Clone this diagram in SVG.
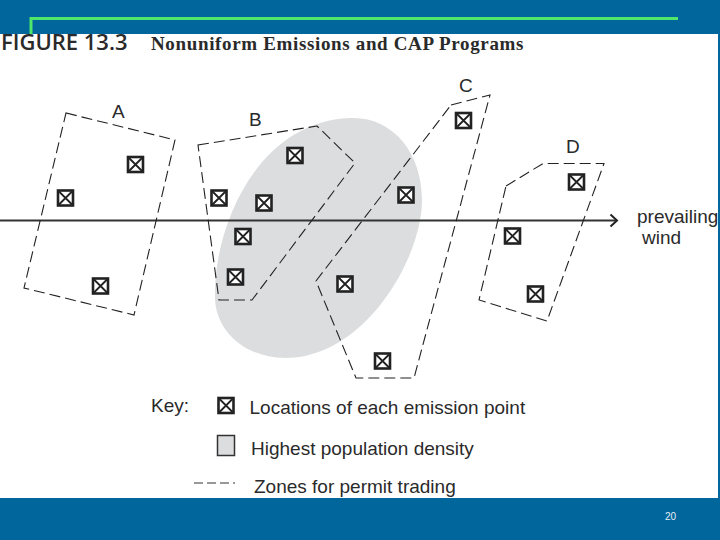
<svg xmlns="http://www.w3.org/2000/svg" width="720" height="540" viewBox="0 0 720 540">
<style>
.band{fill:#00669c}
.zone{fill:none;stroke:#222;stroke-width:1.1;stroke-dasharray:11 5}
.pt rect{fill:#fff;stroke:#222;stroke-width:2.6}
.pt path{fill:none;stroke:#222;stroke-width:1.8}
.lab{font-family:"Liberation Sans",Arial,sans-serif;font-size:19px;fill:#2a2a2a}
</style>
<defs>
<g id="pt" class="pt"><rect x="-7.5" y="-7.5" width="15" height="15"/><path d="M-7-7L7 7M7-7L-7 7"/></g>
</defs>
<rect width="720" height="540" fill="#fff"/>
<g id="frame">
<rect class="band" width="720" height="34"/>
<rect class="band" y="498" width="720" height="42"/>
<rect class="band" x="718" y="34" width="2" height="464"/>
<path d="M31 34V18.500H678" fill="none" stroke="#4fe66c" stroke-width="3"/>
<text x="670.500" y="520" text-anchor="middle" font-family="Liberation Sans,Arial,sans-serif" font-size="10" fill="#e6eef4">20</text>
</g>
<g id="title">
<text x="1" y="50" font-family="Open Sans,Liberation Sans,sans-serif" font-size="22" font-weight="600" fill="#2a2a2a">FIGURE 13.3</text>
<text x="151" y="49.500" font-family="Liberation Serif,serif" font-size="19" font-weight="700" letter-spacing=".65" fill="#2a2a2a">Nonuniform Emissions and CAP Programs</text>
</g>
<path id="density" d="M350 118C392 116 422 152 422 200C422 258 365 358 285 358C245 358 214 330 215 295C214 230 255 122 350 118Z" fill="#dcddde"/>
<g id="connectors">
<path d="M0 220.500H617" fill="none" stroke="#333" stroke-width="1.800"/>
<path d="M610.500 214.500L617 220.500L610.500 226.500" fill="none" stroke="#222" stroke-width="2"/>
</g>
<g id="zone-a"><path class="zone" d="M66 113L175 140L134 315L24 288Z"/><text class="lab" x="112" y="118">A</text>
<use href="#pt" x="135.500" y="164.500"/><use href="#pt" x="65.500" y="198"/><use href="#pt" x="100.500" y="286"/></g>
<g id="zone-b"><path class="zone" d="M198 145L317 126L355 163L252 300H219Z"/><text class="lab" x="249" y="126">B</text>
<use href="#pt" x="295" y="155.500"/><use href="#pt" x="219" y="198"/><use href="#pt" x="264" y="203"/><use href="#pt" x="243" y="236.500"/><use href="#pt" x="235.500" y="277"/></g>
<g id="zone-c"><path class="zone" d="M451 105L490 95L414 378H356L316 281Z"/><text class="lab" x="459" y="92">C</text>
<use href="#pt" x="463.500" y="120.500"/><use href="#pt" x="406" y="195"/><use href="#pt" x="345" y="284"/><use href="#pt" x="382.500" y="361"/></g>
<g id="zone-d"><path class="zone" d="M506 186L543 163.500H604L547 321L479 300Z"/><text class="lab" x="566" y="153">D</text>
<use href="#pt" x="576.500" y="182"/><use href="#pt" x="512.500" y="236"/><use href="#pt" x="535.500" y="294"/></g>
<g id="wind-label"><text class="lab" x="637" y="223">prevailing</text><text class="lab" x="642" y="244">wind</text></g>
<g id="key">
<text class="lab" x="151" y="412">Key:</text>
<use href="#pt" x="226" y="405.500"/>
<text class="lab" x="249.500" y="414">Locations of each emission point</text>
<rect x="217.500" y="435.500" width="17" height="20" fill="#dcddde" stroke="#333" stroke-width="1.500"/>
<text class="lab" x="251" y="455">Highest population density</text>
<path d="M194 483H235" fill="none" stroke="#333" stroke-width="1" stroke-dasharray="9 4"/>
<text class="lab" x="254" y="493">Zones for permit trading</text>
</g>
</svg>
